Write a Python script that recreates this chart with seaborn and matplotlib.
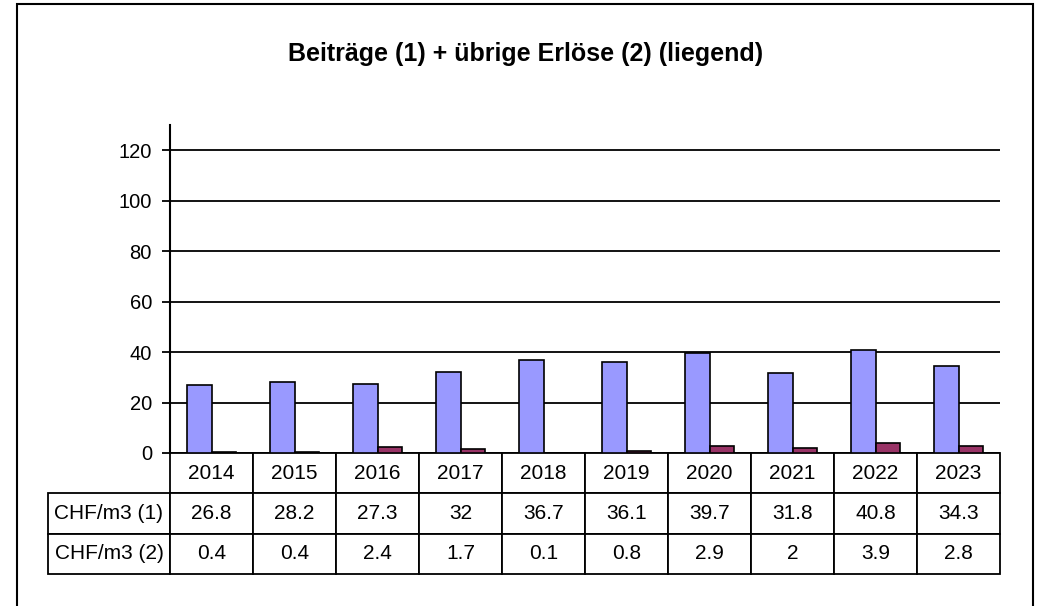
import pandas as pd
import seaborn as sns
import matplotlib.pyplot as plt
from matplotlib.patches import Rectangle

years = ["2014", "2015", "2016", "2017", "2018", "2019", "2020", "2021", "2022", "2023"]
beitraege = [26.8, 28.2, 27.3, 32, 36.7, 36.1, 39.7, 31.8, 40.8, 34.3]
erloese = [0.4, 0.4, 2.4, 1.7, 0.1, 0.8, 2.9, 2, 3.9, 2.8]
series_labels = ["CHF/m3 (1)", "CHF/m3 (2)"]
title = "Beiträge (1) + übrige Erlöse (2) (liegend)"


def fmt(v):
    return f"{v:g}"


def main():
    sns.set_theme(style="white", rc={"text.color": "black", "axes.labelcolor": "black",
                                     "xtick.color": "black", "ytick.color": "black"})
    plt.rcParams["font.family"] = ["Liberation Sans", "DejaVu Sans"]

    df = pd.DataFrame({
        "year": years * 2,
        "value": beitraege + erloese,
        "series": [series_labels[0]] * len(years) + [series_labels[1]] * len(years),
    })

    fig = plt.figure(figsize=(10.43, 6.06), dpi=100)
    fig.patches.append(Rectangle((17 / 1043, -0.01), (1033 - 17) / 1043, 1 - 4 / 606 + 0.01,
                                 transform=fig.transFigure, fill=False,
                                 edgecolor="black", linewidth=1.5))
    ax = fig.add_axes([170 / 1043, 1 - 453 / 606, 830 / 1043, 328 / 606])

    sns.barplot(data=df, x="year", y="value", hue="series",
                palette=["#9999FF", "#993366"], width=0.6, gap=0,
                edgecolor="black", linewidth=1.2, saturation=1,
                legend=False, ax=ax)

    ax.set_ylim(0, 130)
    ax.set_xlim(-0.5, len(years) - 0.5)
    ax.set_yticks(range(0, 121, 20))
    ax.yaxis.grid(True, color="black", linewidth=1.3)
    ax.set_axisbelow(True)
    ax.tick_params(axis="y", direction="out", length=6, width=1.3, pad=7,
                   labelsize=14.5, colors="black", left=True)
    ax.set_xticks([])
    ax.set_xlabel("")
    ax.set_ylabel("")
    for s in ["top", "right", "bottom"]:
        ax.spines[s].set_visible(False)
    ax.spines["left"].set_color("black")
    ax.spines["left"].set_linewidth(1.5)

    # data table under the plot
    cell_text = [[""] + years,
                 [series_labels[0]] + [fmt(v) for v in beitraege],
                 [series_labels[1]] + [fmt(v) for v in erloese]]
    widths = [122 / 952] + [83 / 952] * len(years)
    tab = ax.table(cellText=cell_text, colWidths=widths, cellLoc="center",
                   bbox=[-122 / 830, -121 / 328, 952 / 830, 121 / 328])
    tab.auto_set_font_size(False)
    tab.set_fontsize(15)
    for (r, c), cell in tab.get_celld().items():
        cell.set_linewidth(1.3)
        cell.set_edgecolor("black")
        cell.get_text().set_color("black")
        if c == 0:
            cell._loc = "left"
            cell.PAD = 0.04
        if r == 0 and c == 0:
            cell.set_visible(False)

    fig.text(0.5035, 1 - 54 / 606, title, ha="center", va="center",
             fontsize=18, fontweight="bold", color="black")

    fig.savefig("out.png", dpi=100)
    plt.close(fig)


if __name__ == "__main__":
    main()
